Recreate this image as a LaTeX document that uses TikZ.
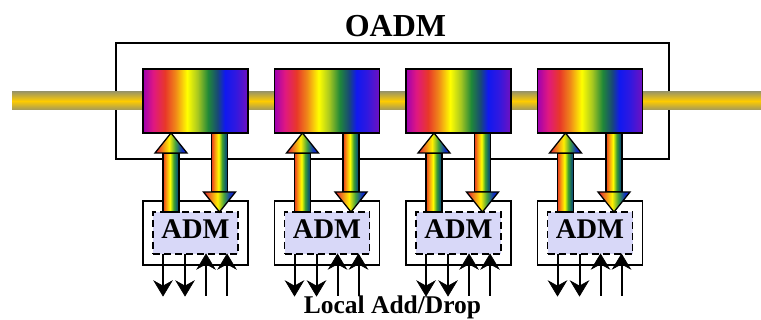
\documentclass[tikz,border=0pt]{standalone}
\usepackage{fontspec}
\setmainfont{Liberation Serif}
\usetikzlibrary{arrows.meta,calc}
\definecolor{rb0}{HTML}{A000B0}
\definecolor{rb1}{HTML}{E01880}
\definecolor{rb2}{HTML}{E83828}
\definecolor{rb3}{HTML}{F08818}
\definecolor{rb4}{HTML}{FFFF00}
\definecolor{rb5}{HTML}{A8C820}
\definecolor{rb6}{HTML}{208838}
\definecolor{rb7}{HTML}{184878}
\definecolor{rb8}{HTML}{1018F0}
\definecolor{rb9}{HTML}{3018E0}
\definecolor{rb10}{HTML}{7010C0}
\definecolor{as0}{HTML}{E83820}
\definecolor{as1}{HTML}{F8A010}
\definecolor{as2}{HTML}{FFFF00}
\definecolor{as3}{HTML}{40A030}
\definecolor{as4}{HTML}{106068}
\definecolor{as5}{HTML}{103878}
\definecolor{ah0}{HTML}{E01830}
\definecolor{ah1}{HTML}{F08020}
\definecolor{ah2}{HTML}{FFF000}
\definecolor{ah3}{HTML}{40A040}
\definecolor{ah4}{HTML}{1030C0}
\definecolor{ah5}{HTML}{2020F0}
\definecolor{fibedge}{HTML}{A09860}
\definecolor{fibmid}{HTML}{FFCC00}
\definecolor{admfill}{HTML}{D8D8F8}
\pgfdeclarehorizontalshading{rainbowbox}{100bp}{color(0bp)=(rb0); color(25bp)=(rb0); color(30bp)=(rb1); color(35.5bp)=(rb2); color(40.5bp)=(rb3); color(46bp)=(rb4); color(51bp)=(rb5); color(56bp)=(rb6); color(60.5bp)=(rb7); color(64bp)=(rb8); color(69bp)=(rb9); color(75bp)=(rb10); color(100bp)=(rb10)}
\pgfdeclarehorizontalshading{arrshaft}{100bp}{color(0bp)=(as0); color(25bp)=(as0); color(36bp)=(as1); color(47bp)=(as2); color(58bp)=(as3); color(68bp)=(as4); color(75bp)=(as5); color(100bp)=(as5)}
\pgfdeclarehorizontalshading{arrhead}{100bp}{color(0bp)=(ah0); color(25bp)=(ah0); color(36bp)=(ah1); color(47bp)=(ah2); color(57bp)=(ah3); color(67bp)=(ah4); color(75bp)=(ah5); color(100bp)=(ah5)}
\begin{document}
\begin{tikzpicture}[x=1pt,y=-1pt,
  frame/.style={draw=black, line width=1.8pt, inner sep=0pt, outer sep=0pt},
  wdmbox/.style={frame, shade, shading=rainbowbox, minimum width=105pt, minimum height=64pt},
  admouter/.style={frame, fill=white, minimum width=105pt, minimum height=64pt},
  admin/.style={draw=black, line width=1.8pt, dash pattern=on 7pt off 4pt, fill=admfill, inner sep=0pt, outer sep=0pt, minimum width=85pt, minimum height=42pt},
  admtext/.style={font=\bfseries\fontsize{28.5}{28.5}\selectfont, inner sep=0pt},
  rbshaft/.style={draw=black, line width=1.3pt, shade, shading=arrshaft},
  rbhead/.style={draw=black, line width=1.3pt, shade, shading=arrhead, line join=miter},
  localline/.style={line width=2pt},
  localhead/.style={fill=black, draw=black, line width=0.6pt, line join=miter},
  fiber/.style={top color=fibedge, bottom color=fibedge, middle color=fibmid},
  titletext/.style={font=\bfseries\fontsize{32}{32}\selectfont, inner sep=0pt, anchor=base},
  labeltext/.style={font=\bfseries\fontsize{25.5}{25.5}\selectfont, inner sep=0pt, anchor=base}]
\useasboundingbox (0,0) rectangle (761,320);
% OADM frame
\node[frame, minimum width=553pt, minimum height=116pt] (oadm) at (392.5,101) {};
% fiber
\coordinate (fibL) at (12,92);
\coordinate (fibR) at (761,110);
\fill[fiber] (fibL) rectangle (fibR);
\foreach \i in {1,...,4}{
  \pgfmathsetmacro\xo{143+(\i-1)*131.5}
  \node[wdmbox] (wdm\i) at (\xo+52.5,101) {};
  \node[admouter] (adm\i) at (\xo+52.5,233) {};
  \node[admin] (admin\i) at (\xo+52.5,233) {};
  \node[admtext, yshift=3.5pt] (admt\i) at (admin\i.center) {ADM};
  % rainbow add arrow (up)
  \coordinate (uptip\i) at ($(wdm\i.south)+(-24.5,0)$);
  \coordinate (dntip\i) at ($(admin\i.north)+(24,0)$);
  \draw[rbshaft] ($(uptip\i)+(-8,20)$) rectangle ($(admin\i.north)+(-16.5,0)$);
  \draw[rbhead] ($(uptip\i)+(-16,20)$) -- (uptip\i) -- ($(uptip\i)+(16,20)$) -- cycle;
  % rainbow drop arrow (down)
  \draw[rbshaft] ($(wdm\i.south)+(16,0)$) rectangle ($(dntip\i)+(8,-20)$);
  \draw[rbhead] ($(dntip\i)+(-16,-20)$) -- (dntip\i) -- ($(dntip\i)+(16,-20)$) -- cycle;
  % local drop (down arrows)
  \foreach \k/\dx in {1/-32.5,2/-10.5}{
    \coordinate (ls\k\i) at ($(admin\i.south)+(\dx,0)$);
    \coordinate (le\k\i) at ($(ls\k\i)+(0,42)$);
    \draw[localline] (ls\k\i) -- ($(le\k\i)+(0,-9)$);
    \draw[localhead] (le\k\i) -- ($(le\k\i)+(-9,-15)$) -- ($(le\k\i)+(0,-10)$) -- ($(le\k\i)+(9,-15)$) -- cycle;
  }
  % local add (up arrows)
  \foreach \k/\dx in {3/10.5,4/31.5}{
    \coordinate (le\k\i) at ($(admin\i.south)+(\dx,0)$);
    \coordinate (ls\k\i) at ($(le\k\i)+(0,42)$);
    \draw[localline] (ls\k\i) -- ($(le\k\i)+(0,9)$);
    \draw[localhead] (le\k\i) -- ($(le\k\i)+(-9,15)$) -- ($(le\k\i)+(0,10)$) -- ($(le\k\i)+(9,15)$) -- cycle;
  }
}
\node[titletext] (title) at (395.5,37) {OADM};
\node[labeltext] (local) at (392.5,314) {Local Add/Drop};
\end{tikzpicture}
\end{document}
